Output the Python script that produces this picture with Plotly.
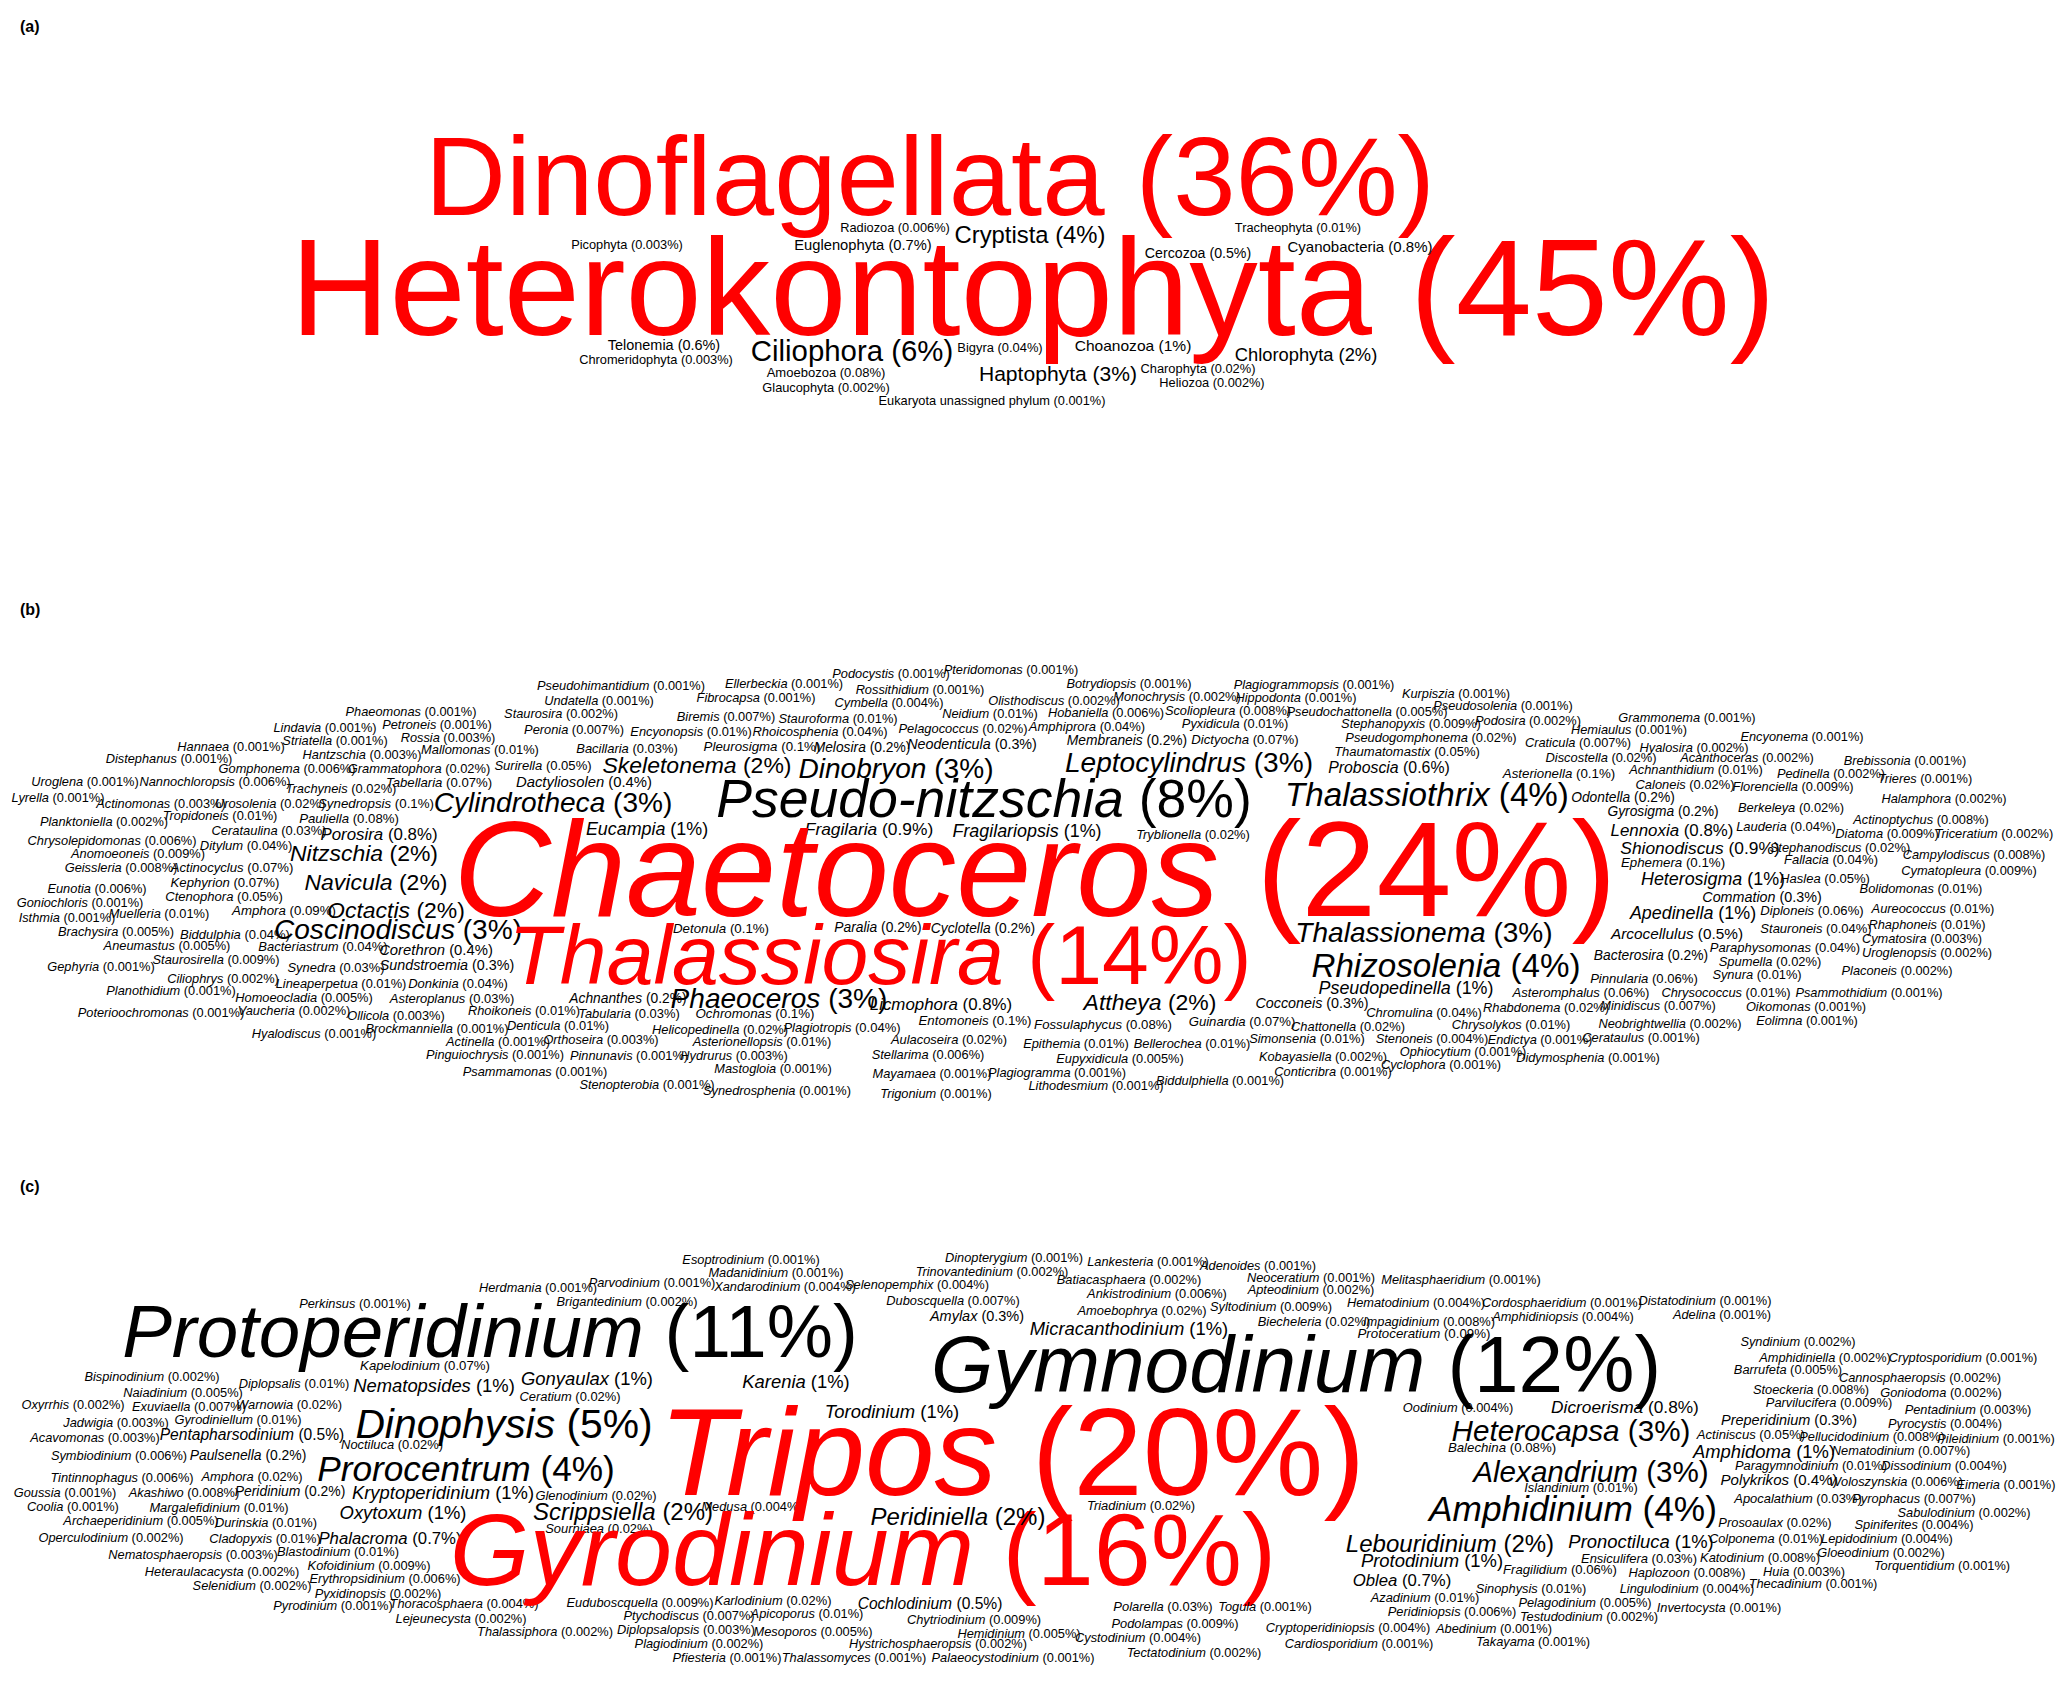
import plotly.graph_objects as go

W, H = 2067, 1681
FONT = "Liberation Sans, Arial, Helvetica, sans-serif"
MIN_SIZE = 12.8

# ---------------- (a) phyla ----------------
phyla = ["Heterokontophyta", "Dinoflagellata", "Ciliophora", "Cryptista", "Haptophyta",
         "Chlorophyta", "Choanozoa", "Cyanobacteria", "Euglenophyta", "Telonemia",
         "Cercozoa", "Amoebozoa", "Bigyra", "Charophyta", "Tracheophyta",
         "Radiozoa", "Picophyta", "Chromeridophyta", "Glaucophyta", "Heliozoa",
         "Eukaryota unassigned phylum"]
phyla_pct = [45, 36, 6, 4, 3,
             2, 1, 0.8, 0.7, 0.6,
             0.5, 0.08, 0.04, 0.02, 0.01,
             0.006, 0.003, 0.003, 0.002, 0.002,
             0.001]

# ---------------- (b) Heterokontophyta genera ----------------
genera_b = [
    "Phaeomonas", "Lindavia", "Petroneis", "Rossia", "Mallomonas", "Hannaea", "Striatella", "Hantzschia",
    "Distephanus", "Gomphonema", "Grammatophora", "Uroglena", "Nannochloropsis", "Trachyneis", "Tabellaria", "Lyrella",
    "Actinomonas", "Urosolenia", "Synedropsis", "Tropidoneis", "Planktoniella", "Pauliella", "Cerataulina", "Porosira",
    "Chrysolepidomonas", "Ditylum", "Anomoeoneis", "Nitzschia", "Geissleria", "Actinocyclus", "Navicula", "Eunotia",
    "Kephyrion", "Goniochloris", "Ctenophora", "Isthmia", "Muelleria", "Amphora", "Octactis", "Coscinodiscus",
    "Brachysira", "Biddulphia", "Aneumastus", "Bacteriastrum", "Corethron", "Staurosirella", "Gephyria", "Synedra",
    "Sundstroemia", "Ciliophrys", "Lineaperpetua", "Donkinia", "Planothidium", "Homoeocladia", "Asteroplanus", "Poterioochromonas",
    "Vaucheria", "Ollicola", "Hyalodiscus", "Brockmanniella", "Pseudohimantidium", "Ellerbeckia", "Undatella", "Fibrocapsa",
    "Staurosira", "Biremis", "Stauroforma", "Peronia", "Encyonopsis", "Rhoicosphenia", "Bacillaria", "Pleurosigma",
    "Melosira", "Surirella", "Skeletonema", "Dactyliosolen", "Dinobryon", "Cylindrotheca", "Eucampia", "Pseudo-nitzschia",
    "Fragilaria", "Fragilariopsis", "Tryblionella", "Chaetoceros", "Thalassiosira", "Detonula", "Paralia", "Cyclotella",
    "Phaeoceros", "Achnanthes", "Rhoikoneis", "Tabularia", "Ochromonas", "Denticula", "Helicopedinella", "Plagiotropis",
    "Actinella", "Orthoseira", "Asterionellopsis", "Pinguiochrysis", "Pinnunavis", "Hydrurus", "Psammamonas", "Mastogloia",
    "Stenopterobia", "Synedrosphenia", "Podocystis", "Pteridomonas", "Rossithidium", "Botrydiopsis", "Cymbella", "Olisthodiscus",
    "Monochrysis", "Plagiogrammopsis", "Hippodonta", "Neidium", "Hobaniella", "Scoliopleura", "Pelagococcus", "Amphiprora",
    "Pyxidicula", "Neodenticula", "Membraneis", "Dictyocha", "Leptocylindrus", "Licmophora", "Attheya", "Entomoneis",
    "Fossulaphycus", "Guinardia", "Aulacoseira", "Epithemia", "Bellerochea", "Stellarima", "Eupyxidicula", "Mayamaea",
    "Plagiogramma", "Lithodesmium", "Biddulphiella", "Trigonium", "Kurpiszia", "Pseudosolenia", "Pseudochattonella", "Stephanopyxis",
    "Podosira", "Grammonema", "Hemiaulus", "Pseudogomphonema", "Thaumatomastix", "Craticula", "Hyalosira", "Discostella",
    "Proboscia", "Asterionella", "Achnanthidium", "Acanthoceras", "Caloneis", "Odontella", "Gyrosigma", "Lennoxia",
    "Shionodiscus", "Ephemera", "Heterosigma", "Commation", "Apedinella", "Arcocellulus", "Bacterosira", "Pinnularia",
    "Asteromphalus", "Minidiscus", "Rhabdonema", "Neobrightwellia", "Cerataulus", "Didymosphenia", "Thalassiothrix", "Thalassionema",
    "Rhizosolenia", "Pseudopedinella", "Cocconeis", "Chromulina", "Chattonella", "Chrysolykos", "Simonsenia", "Stenoneis",
    "Endictya", "Ophiocytium", "Kobayasiella", "Cyclophora", "Conticribra", "Encyonema", "Brebissonia", "Pedinella",
    "Trieres", "Florenciella", "Halamphora", "Berkeleya", "Actinoptychus", "Lauderia", "Diatoma", "Triceratium",
    "Stephanodiscus", "Campylodiscus", "Fallacia", "Cymatopleura", "Haslea", "Bolidomonas", "Diploneis", "Aureococcus",
    "Rhaphoneis", "Stauroneis", "Cymatosira", "Paraphysomonas", "Uroglenopsis", "Spumella", "Placoneis", "Synura",
    "Chrysococcus", "Psammothidium", "Oikomonas", "Eolimna",
]
pct_b = [
    0.001, 0.001, 0.001, 0.003, 0.01, 0.001, 0.001, 0.003,
    0.001, 0.006, 0.02, 0.001, 0.006, 0.02, 0.07, 0.001,
    0.003, 0.02, 0.1, 0.01, 0.002, 0.08, 0.03, 0.8,
    0.006, 0.04, 0.009, 2, 0.008, 0.07, 2, 0.006,
    0.07, 0.001, 0.05, 0.001, 0.01, 0.09, 2, 3,
    0.005, 0.04, 0.005, 0.04, 0.4, 0.009, 0.001, 0.03,
    0.3, 0.002, 0.01, 0.04, 0.001, 0.005, 0.03, 0.001,
    0.002, 0.003, 0.001, 0.001, 0.001, 0.001, 0.001, 0.001,
    0.002, 0.007, 0.01, 0.007, 0.01, 0.04, 0.03, 0.1,
    0.2, 0.05, 2, 0.4, 3, 3, 1, 8,
    0.9, 1, 0.02, 24, 14, 0.1, 0.2, 0.2,
    3, 0.2, 0.01, 0.03, 0.1, 0.01, 0.02, 0.04,
    0.001, 0.003, 0.01, 0.001, 0.001, 0.003, 0.001, 0.001,
    0.001, 0.001, 0.001, 0.001, 0.001, 0.001, 0.004, 0.002,
    0.002, 0.001, 0.001, 0.01, 0.006, 0.008, 0.02, 0.04,
    0.01, 0.3, 0.2, 0.07, 3, 0.8, 2, 0.1,
    0.08, 0.07, 0.02, 0.01, 0.01, 0.006, 0.005, 0.001,
    0.001, 0.001, 0.001, 0.001, 0.001, 0.001, 0.005, 0.009,
    0.002, 0.001, 0.001, 0.02, 0.05, 0.007, 0.002, 0.02,
    0.6, 0.1, 0.01, 0.002, 0.02, 0.2, 0.2, 0.8,
    0.9, 0.1, 1, 0.3, 1, 0.5, 0.2, 0.06,
    0.06, 0.007, 0.02, 0.002, 0.001, 0.001, 4, 3,
    4, 1, 0.3, 0.04, 0.02, 0.01, 0.01, 0.004,
    0.001, 0.001, 0.002, 0.001, 0.001, 0.001, 0.001, 0.002,
    0.001, 0.009, 0.002, 0.02, 0.008, 0.04, 0.009, 0.002,
    0.02, 0.008, 0.04, 0.009, 0.05, 0.01, 0.06, 0.01,
    0.01, 0.04, 0.003, 0.04, 0.002, 0.02, 0.002, 0.01,
    0.01, 0.001, 0.001, 0.001,
]

# ---------------- (c) Dinoflagellata genera ----------------
genera_c = [
    "Perkinsus", "Protoperidinium", "Kapelodinium", "Bispinodinium", "Diplopsalis", "Nematopsides", "Naiadinium", "Oxyrrhis",
    "Exuviaella", "Warnowia", "Jadwigia", "Gyrodiniellum", "Acavomonas", "Pentapharsodinium", "Dinophysis", "Noctiluca",
    "Symbiodinium", "Paulsenella", "Prorocentrum", "Tintinnophagus", "Amphora", "Goussia", "Akashiwo", "Peridinium",
    "Kryptoperidinium", "Coolia", "Margalefidinium", "Oxytoxum", "Archaeperidinium", "Durinskia", "Operculodinium", "Cladopyxis",
    "Phalacroma", "Nematosphaeropsis", "Blastodinium", "Kofoidinium", "Heteraulacacysta", "Erythropsidinium", "Selenidium", "Pyxidinopsis",
    "Pyrodinium", "Thoracosphaera", "Lejeunecysta", "Herdmania", "Parvodinium", "Brigantedinium", "Esoptrodinium", "Madanidinium",
    "Xandarodinium", "Gonyaulax", "Ceratium", "Karenia", "Glenodinium", "Scrippsiella", "Medusa", "Sourniaea",
    "Tripos", "Gyrodinium", "Torodinium", "Euduboscquella", "Karlodinium", "Ptychodiscus", "Apicoporus", "Thalassiphora",
    "Diplopsalopsis", "Mesoporos", "Plagiodinium", "Pfiesteria", "Thalassomyces", "Dinopterygium", "Lankesteria", "Adenoides",
    "Trinovantedinium", "Selenopemphix", "Batiacasphaera", "Neoceratium", "Duboscquella", "Ankistrodinium", "Apteodinium", "Amylax",
    "Amoebophrya", "Syltodinium", "Micracanthodinium", "Gymnodinium", "Peridiniella", "Triadinium", "Cochlodinium", "Chytriodinium",
    "Hemidinium", "Hystrichosphaeropsis", "Palaeocystodinium", "Polarella", "Togula", "Podolampas", "Cystodinium", "Tectatodinium",
    "Melitasphaeridium", "Hematodinium", "Cordosphaeridium", "Distatodinium", "Biecheleria", "Impagidinium", "Amphidiniopsis", "Adelina",
    "Protoceratium", "Oodinium", "Dicroerisma", "Heterocapsa", "Balechina", "Alexandrium", "Islandinium", "Amphidinium",
    "Lebouridinium", "Pronoctiluca", "Protodinium", "Ensiculifera", "Fragilidium", "Haplozoon", "Oblea", "Sinophysis",
    "Lingulodinium", "Azadinium", "Pelagodinium", "Invertocysta", "Peridiniopsis", "Testudodinium", "Cryptoperidiniopsis", "Abedinium",
    "Cardiosporidium", "Takayama", "Syndinium", "Amphidiniella", "Cryptosporidium", "Barrufeta", "Cannosphaeropsis", "Stoeckeria",
    "Goniodoma", "Parvilucifera", "Pentadinium", "Preperidinium", "Pyrocystis", "Actiniscus", "Pellucidodinium", "Pileidinium",
    "Amphidoma", "Nematodinium", "Paragymnodinium", "Dissodinium", "Polykrikos", "Woloszynskia", "Eimeria", "Apocalathium",
    "Pyrophacus", "Sabulodinium", "Prosoaulax", "Spiniferites", "Colponema", "Lepidodinium", "Katodinium", "Gloeodinium",
    "Torquentidium", "Huia", "Thecadinium",
]
pct_c = [
    0.001, 11, 0.07, 0.002, 0.01, 1, 0.005, 0.002,
    0.007, 0.02, 0.003, 0.01, 0.003, 0.5, 5, 0.02,
    0.006, 0.2, 4, 0.006, 0.02, 0.001, 0.008, 0.2,
    1, 0.001, 0.01, 1, 0.005, 0.01, 0.002, 0.01,
    0.7, 0.003, 0.01, 0.009, 0.002, 0.006, 0.002, 0.002,
    0.001, 0.004, 0.002, 0.001, 0.001, 0.002, 0.001, 0.001,
    0.004, 1, 0.02, 1, 0.02, 2, 0.004, 0.02,
    20, 16, 1, 0.009, 0.02, 0.007, 0.01, 0.002,
    0.003, 0.005, 0.002, 0.001, 0.001, 0.001, 0.001, 0.001,
    0.002, 0.004, 0.002, 0.001, 0.007, 0.006, 0.002, 0.3,
    0.02, 0.009, 1, 12, 2, 0.02, 0.5, 0.009,
    0.005, 0.002, 0.001, 0.03, 0.001, 0.009, 0.004, 0.002,
    0.001, 0.004, 0.001, 0.001, 0.02, 0.008, 0.004, 0.001,
    0.09, 0.004, 0.8, 3, 0.08, 3, 0.01, 4,
    2, 1, 1, 0.03, 0.06, 0.008, 0.7, 0.01,
    0.004, 0.01, 0.005, 0.001, 0.006, 0.002, 0.004, 0.001,
    0.001, 0.001, 0.002, 0.002, 0.001, 0.005, 0.002, 0.008,
    0.002, 0.009, 0.003, 0.3, 0.004, 0.05, 0.008, 0.001,
    1, 0.007, 0.01, 0.004, 0.4, 0.006, 0.001, 0.03,
    0.007, 0.002, 0.02, 0.004, 0.01, 0.004, 0.008, 0.002,
    0.001, 0.003, 0.001,
]

# ---------------- cloud layout (centre of each word, page pixels) ----------------
pos_a = {
    "Heterokontophyta": (1033, 286), "Dinoflagellata": (930, 175), "Ciliophora": (852, 351),
    "Cryptista": (1030, 234), "Haptophyta": (1058, 373), "Chlorophyta": (1306, 354),
    "Choanozoa": (1133, 345), "Cyanobacteria": (1360, 247), "Euglenophyta": (863, 245),
    "Telonemia": (664, 345), "Cercozoa": (1198, 253), "Amoebozoa": (826, 372),
    "Bigyra": (1000, 347), "Charophyta": (1198, 368), "Tracheophyta": (1298, 227),
    "Radiozoa": (895, 227), "Picophyta": (627, 244), "Chromeridophyta": (656, 359),
    "Glaucophyta": (826, 387), "Heliozoa": (1212, 382), "Eukaryota unassigned phylum": (992, 400),
}

pos_b = {
    "Phaeomonas": (411, 711), "Lindavia": (325, 727), "Petroneis": (437, 724), "Rossia": (448, 737),
    "Mallomonas": (480, 749), "Hannaea": (231, 746), "Striatella": (335, 740), "Hantzschia": (362, 754),
    "Distephanus": (169, 758), "Gomphonema": (287, 768), "Grammatophora": (419, 768), "Uroglena": (85, 781),
    "Nannochloropsis": (215, 781), "Trachyneis": (341, 788), "Tabellaria": (439, 782), "Lyrella": (58, 797),
    "Actinomonas": (161, 803), "Urosolenia": (270, 803), "Synedropsis": (376, 803), "Tropidoneis": (220, 815),
    "Planktoniella": (104, 821), "Pauliella": (349, 818), "Cerataulina": (269, 830), "Porosira": (379, 834),
    "Chrysolepidomonas": (112, 840), "Ditylum": (246, 845), "Anomoeoneis": (138, 853), "Nitzschia": (364, 853),
    "Geissleria": (121, 867), "Actinocyclus": (232, 867), "Navicula": (376, 882), "Eunotia": (97, 888),
    "Kephyrion": (225, 882), "Goniochloris": (80, 902), "Ctenophora": (224, 896), "Isthmia": (67, 917),
    "Muelleria": (159, 913), "Amphora": (284, 910), "Octactis": (396, 910), "Coscinodiscus": (398, 929),
    "Brachysira": (116, 931), "Biddulphia": (235, 934), "Aneumastus": (167, 945), "Bacteriastrum": (323, 946),
    "Corethron": (436, 950), "Staurosirella": (216, 959), "Gephyria": (101, 966), "Synedra": (336, 967),
    "Sundstroemia": (447, 965), "Ciliophrys": (223, 978), "Lineaperpetua": (341, 983), "Donkinia": (458, 983),
    "Planothidium": (171, 990), "Homoeocladia": (304, 997), "Asteroplanus": (452, 998), "Poterioochromonas": (161, 1012),
    "Vaucheria": (294, 1010), "Ollicola": (396, 1015), "Hyalodiscus": (314, 1033), "Brockmanniella": (437, 1028),
    "Pseudohimantidium": (621, 685), "Ellerbeckia": (784, 683), "Undatella": (599, 700), "Fibrocapsa": (756, 697),
    "Staurosira": (561, 713), "Biremis": (726, 716), "Stauroforma": (838, 718), "Peronia": (574, 729),
    "Encyonopsis": (691, 731), "Rhoicosphenia": (820, 731), "Bacillaria": (627, 748), "Pleurosigma": (762, 746),
    "Melosira": (862, 747), "Surirella": (543, 765), "Skeletonema": (697, 765), "Dactyliosolen": (584, 782),
    "Dinobryon": (896, 768), "Cylindrotheca": (553, 802), "Eucampia": (647, 829), "Pseudo-nitzschia": (984, 798),
    "Fragilaria": (869, 829), "Fragilariopsis": (1027, 831), "Tryblionella": (1193, 834), "Chaetoceros": (1035, 868),
    "Thalassiosira": (880, 954), "Detonula": (721, 928), "Paralia": (878, 927), "Cyclotella": (983, 928),
    "Phaeoceros": (779, 998), "Achnanthes": (628, 998), "Rhoikoneis": (524, 1010), "Tabularia": (629, 1013),
    "Ochromonas": (755, 1013), "Denticula": (558, 1025), "Helicopedinella": (720, 1029), "Plagiotropis": (842, 1027),
    "Actinella": (498, 1041), "Orthoseira": (601, 1039), "Asterionellopsis": (762, 1041), "Pinguiochrysis": (495, 1054),
    "Pinnunavis": (629, 1055), "Hydrurus": (734, 1055), "Psammamonas": (535, 1071), "Mastogloia": (773, 1068),
    "Stenopterobia": (647, 1084), "Synedrosphenia": (777, 1090), "Podocystis": (891, 673), "Pteridomonas": (1011, 669),
    "Rossithidium": (920, 689), "Botrydiopsis": (1129, 683), "Cymbella": (889, 702), "Olisthodiscus": (1054, 700),
    "Monochrysis": (1177, 696), "Plagiogrammopsis": (1314, 684), "Hippodonta": (1296, 697), "Neidium": (990, 713),
    "Hobaniella": (1106, 712), "Scoliopleura": (1228, 710), "Pelagococcus": (963, 728), "Amphiprora": (1087, 726),
    "Pyxidicula": (1235, 723), "Neodenticula": (972, 744), "Membraneis": (1127, 740), "Dictyocha": (1245, 739),
    "Leptocylindrus": (1189, 762), "Licmophora": (941, 1004), "Attheya": (1150, 1002), "Entomoneis": (975, 1020),
    "Fossulaphycus": (1103, 1024), "Guinardia": (1242, 1021), "Aulacoseira": (949, 1039), "Epithemia": (1076, 1043),
    "Bellerochea": (1192, 1043), "Stellarima": (928, 1054), "Eupyxidicula": (1120, 1058), "Mayamaea": (932, 1073),
    "Plagiogramma": (1057, 1072), "Lithodesmium": (1096, 1085), "Biddulphiella": (1220, 1080), "Trigonium": (936, 1093),
    "Kurpiszia": (1456, 693), "Pseudosolenia": (1503, 705), "Pseudochattonella": (1367, 711), "Stephanopyxis": (1411, 723),
    "Podosira": (1528, 720), "Grammonema": (1687, 717), "Hemiaulus": (1629, 729), "Pseudogomphonema": (1431, 737),
    "Thaumatomastix": (1407, 751), "Craticula": (1578, 742), "Hyalosira": (1694, 747), "Discostella": (1601, 757),
    "Proboscia": (1389, 767), "Asterionella": (1559, 773), "Achnanthidium": (1696, 769), "Acanthoceras": (1747, 757),
    "Caloneis": (1685, 784), "Odontella": (1623, 797), "Gyrosigma": (1663, 811), "Lennoxia": (1672, 830),
    "Shionodiscus": (1700, 848), "Ephemera": (1673, 862), "Heterosigma": (1713, 879), "Commation": (1762, 897),
    "Apedinella": (1693, 913), "Arcocellulus": (1677, 934), "Bacterosira": (1651, 955), "Pinnularia": (1644, 978),
    "Asteromphalus": (1581, 992), "Minidiscus": (1658, 1005), "Rhabdonema": (1546, 1007), "Neobrightwellia": (1670, 1023),
    "Cerataulus": (1641, 1037), "Didymosphenia": (1588, 1057), "Thalassiothrix": (1427, 794), "Thalassionema": (1424, 932),
    "Rhizosolenia": (1446, 965), "Pseudopedinella": (1406, 988), "Cocconeis": (1312, 1003), "Chromulina": (1424, 1012),
    "Chattonella": (1348, 1026), "Chrysolykos": (1511, 1024), "Simonsenia": (1307, 1038), "Stenoneis": (1432, 1038),
    "Endictya": (1540, 1039), "Ophiocytium": (1463, 1051), "Kobayasiella": (1323, 1056), "Cyclophora": (1441, 1064),
    "Conticribra": (1333, 1071), "Encyonema": (1802, 736), "Brebissonia": (1905, 760), "Pedinella": (1831, 773),
    "Trieres": (1925, 778), "Florenciella": (1793, 786), "Halamphora": (1944, 798), "Berkeleya": (1791, 807),
    "Actinoptychus": (1921, 819), "Lauderia": (1786, 826), "Diatoma": (1887, 833), "Triceratium": (1994, 833),
    "Stephanodiscus": (1840, 847), "Campylodiscus": (1974, 854), "Fallacia": (1831, 859), "Cymatopleura": (1969, 870),
    "Haslea": (1825, 878), "Bolidomonas": (1921, 888), "Diploneis": (1812, 910), "Aureococcus": (1933, 908),
    "Rhaphoneis": (1927, 924), "Stauroneis": (1816, 928), "Cymatosira": (1922, 938), "Paraphysomonas": (1785, 947),
    "Uroglenopsis": (1927, 952), "Spumella": (1770, 961), "Placoneis": (1897, 970), "Synura": (1757, 974),
    "Chrysococcus": (1726, 992), "Psammothidium": (1869, 992), "Oikomonas": (1806, 1006), "Eolimna": (1807, 1020),
}

pos_c = {
    "Perkinsus": (355, 1303), "Protoperidinium": (490, 1330), "Kapelodinium": (425, 1365), "Bispinodinium": (152, 1376),
    "Diplopsalis": (294, 1383), "Nematopsides": (434, 1385), "Naiadinium": (183, 1392), "Oxyrrhis": (73, 1404),
    "Exuviaella": (189, 1406), "Warnowia": (289, 1404), "Jadwigia": (116, 1422), "Gyrodiniellum": (238, 1419),
    "Acavomonas": (95, 1437), "Pentapharsodinium": (252, 1434), "Dinophysis": (504, 1423), "Noctiluca": (392, 1444),
    "Symbiodinium": (119, 1455), "Paulsenella": (248, 1455), "Prorocentrum": (466, 1468), "Tintinnophagus": (122, 1477),
    "Amphora": (252, 1476), "Goussia": (65, 1492), "Akashiwo": (184, 1492), "Peridinium": (290, 1491),
    "Kryptoperidinium": (443, 1492), "Coolia": (73, 1506), "Margalefidinium": (219, 1507), "Oxytoxum": (403, 1512),
    "Archaeperidinium": (141, 1520), "Durinskia": (266, 1522), "Operculodinium": (111, 1537), "Cladopyxis": (265, 1538),
    "Phalacroma": (390, 1538), "Nematosphaeropsis": (193, 1554), "Blastodinium": (338, 1551), "Kofoidinium": (369, 1565),
    "Heteraulacacysta": (222, 1571), "Erythropsidinium": (385, 1578), "Selenidium": (252, 1585), "Pyxidinopsis": (378, 1593),
    "Pyrodinium": (333, 1605), "Thoracosphaera": (464, 1603), "Lejeunecysta": (461, 1618), "Herdmania": (538, 1287),
    "Parvodinium": (652, 1282), "Brigantedinium": (627, 1301), "Esoptrodinium": (751, 1259), "Madanidinium": (776, 1272),
    "Xandarodinium": (785, 1286), "Gonyaulax": (587, 1378), "Ceratium": (570, 1396), "Karenia": (796, 1381),
    "Glenodinium": (596, 1495), "Scrippsiella": (623, 1511), "Medusa": (752, 1506), "Sourniaea": (599, 1528),
    "Tripos": (1012, 1450), "Gyrodinium": (863, 1548), "Torodinium": (892, 1411), "Euduboscquella": (640, 1602),
    "Karlodinium": (773, 1600), "Ptychodiscus": (689, 1615), "Apicoporus": (807, 1613), "Thalassiphora": (545, 1631),
    "Diplopsalopsis": (686, 1629), "Mesoporos": (813, 1631), "Plagiodinium": (699, 1643), "Pfiesteria": (727, 1657),
    "Thalassomyces": (854, 1657), "Dinopterygium": (1014, 1257), "Lankesteria": (1148, 1261), "Adenoides": (1258, 1265),
    "Trinovantedinium": (992, 1271), "Selenopemphix": (917, 1284), "Batiacasphaera": (1129, 1279), "Neoceratium": (1311, 1277),
    "Duboscquella": (953, 1300), "Ankistrodinium": (1157, 1293), "Apteodinium": (1311, 1289), "Amylax": (977, 1316),
    "Amoebophrya": (1142, 1310), "Syltodinium": (1271, 1306), "Micracanthodinium": (1129, 1328), "Gymnodinium": (1296, 1363),
    "Peridiniella": (958, 1516), "Triadinium": (1141, 1505), "Cochlodinium": (930, 1603), "Chytriodinium": (974, 1619),
    "Hemidinium": (1019, 1633), "Hystrichosphaeropsis": (938, 1643), "Palaeocystodinium": (1013, 1657), "Polarella": (1163, 1606),
    "Togula": (1265, 1606), "Podolampas": (1175, 1623), "Cystodinium": (1138, 1637), "Tectatodinium": (1194, 1652),
    "Melitasphaeridium": (1461, 1279), "Hematodinium": (1416, 1302), "Cordosphaeridium": (1562, 1302), "Distatodinium": (1705, 1300),
    "Biecheleria": (1314, 1321), "Impagidinium": (1429, 1321), "Amphidiniopsis": (1563, 1316), "Adelina": (1722, 1314),
    "Protoceratium": (1424, 1333), "Oodinium": (1458, 1407), "Dicroerisma": (1625, 1407), "Heterocapsa": (1571, 1430),
    "Balechina": (1502, 1447), "Alexandrium": (1591, 1471), "Islandinium": (1581, 1487), "Amphidinium": (1573, 1508),
    "Lebouridinium": (1450, 1543), "Pronoctiluca": (1641, 1541), "Protodinium": (1432, 1560), "Ensiculifera": (1639, 1558),
    "Fragilidium": (1560, 1569), "Haplozoon": (1687, 1572), "Oblea": (1402, 1580), "Sinophysis": (1531, 1588),
    "Lingulodinium": (1687, 1588), "Azadinium": (1425, 1597), "Pelagodinium": (1585, 1602), "Invertocysta": (1719, 1607),
    "Peridiniopsis": (1452, 1611), "Testudodinium": (1589, 1616), "Cryptoperidiniopsis": (1348, 1627), "Abedinium": (1494, 1628),
    "Cardiosporidium": (1359, 1643), "Takayama": (1533, 1641), "Syndinium": (1798, 1341), "Amphidiniella": (1825, 1357),
    "Cryptosporidium": (1963, 1357), "Barrufeta": (1788, 1369), "Cannosphaeropsis": (1920, 1377), "Stoeckeria": (1811, 1389),
    "Goniodoma": (1941, 1392), "Parvilucifera": (1829, 1402), "Pentadinium": (1968, 1409), "Preperidinium": (1789, 1420),
    "Pyrocystis": (1945, 1423), "Actiniscus": (1751, 1434), "Pellucidodinium": (1872, 1436), "Pileidinium": (1996, 1438),
    "Amphidoma": (1764, 1451), "Nematodinium": (1901, 1450), "Paragymnodinium": (1811, 1465), "Dissodinium": (1944, 1465),
    "Polykrikos": (1779, 1480), "Woloszynskia": (1896, 1481), "Eimeria": (2006, 1484), "Apocalathium": (1798, 1498),
    "Pyrophacus": (1914, 1498), "Sabulodinium": (1964, 1512), "Prosoaulax": (1775, 1522), "Spiniferites": (1914, 1524),
    "Colponema": (1766, 1538), "Lepidodinium": (1887, 1538), "Katodinium": (1760, 1557), "Gloeodinium": (1881, 1552),
    "Torquentidium": (1942, 1565), "Huia": (1804, 1571), "Thecadinium": (1813, 1583),
}


def cloud(names, pct, pos, top_size, italic):
    # word size grows linearly with share, from MIN_SIZE up to top_size
    top = max(pct)
    sizes = [MIN_SIZE + (top_size - MIN_SIZE) * p / top for p in pct]
    red_cut = sorted(pct, reverse=True)[1]
    if italic:
        text = [f"<i>{n}</i> ({p:g}%)" for n, p in zip(names, pct)]
    else:
        text = [f"{n} ({p:g}%)" for n, p in zip(names, pct)]
    xs = [pos[n][0] for n in names]
    # plotly puts the baseline 0.25em under the point; shift so the cap band is centred
    ys = [pos[n][1] + 0.108 * s for n, s in zip(names, sizes)]
    colors = ["#ff0000" if p >= red_cut else "#000000" for p in pct]
    return go.Scatter(x=xs, y=ys, mode="text", text=text, textposition="middle center",
                      textfont=dict(family=FONT, size=sizes, color=colors),
                      hoverinfo="skip", cliponaxis=False, showlegend=False)


fig = go.Figure()
fig.add_trace(cloud(phyla, phyla_pct, pos_a, 137, italic=False))
fig.add_trace(cloud(genera_b, pct_b, pos_b, 135, italic=True))
fig.add_trace(cloud(genera_c, pct_c, pos_c, 125, italic=True))

for lab, yy in [("(a)", 26), ("(b)", 609), ("(c)", 1186)]:
    fig.add_annotation(x=18, y=yy, xref="x", yref="y", text=f"<b>{lab}</b>", showarrow=False,
                       xanchor="left", yanchor="middle", font=dict(family=FONT, size=16, color="black"))

fig.update_layout(
    width=W, height=H, margin=dict(l=0, r=0, t=0, b=0),
    paper_bgcolor="white", plot_bgcolor="white",
    xaxis=dict(range=[0, W], visible=False, fixedrange=True),
    yaxis=dict(range=[H, 0], visible=False, fixedrange=True),
)
# the page body has a default 8px margin; drop it so the figure sits at the window corner
fig.write_html("out.html", config={"displayModeBar": False},
               post_script="document.body.style.margin='0px';document.body.style.overflow='hidden';")
